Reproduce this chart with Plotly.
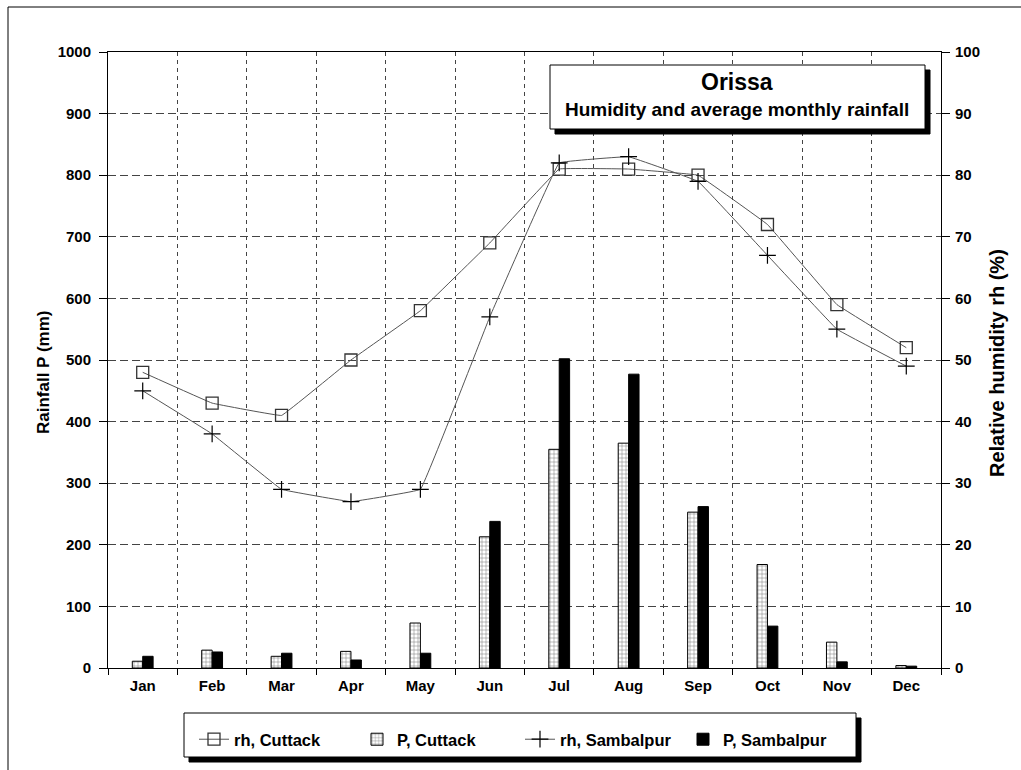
import plotly.graph_objects as go

months = ["Jan", "Feb", "Mar", "Apr", "May", "Jun", "Jul", "Aug", "Sep", "Oct", "Nov", "Dec"]
rh_cuttack = [48, 43, 41, 50, 58, 69, 81, 81, 80, 72, 59, 52]
rh_sambalpur = [45, 38, 29, 27, 29, 57, 82, 83, 79, 67, 55, 49]
p_cuttack = [11, 29, 19, 27, 73, 213, 355, 365, 253, 168, 42, 4]
p_sambalpur = [19, 26, 24, 13, 24, 238, 502, 477, 262, 68, 10, 3]

W, H = 1021, 770
L, R, T, B = 108, 941, 52, 668

def xp(px):
    return (px - L) / (R - L)

def yp(py):
    return (B - py) / (B - T)

xi = list(range(len(months)))
FONT = "Liberation Sans, Arial, sans-serif"

fig = go.Figure()

fig.add_trace(go.Bar(
    x=xi, y=p_cuttack, name="P, Cuttack", yaxis="y", legendrank=2,
    marker=dict(color="white", line=dict(color="black", width=1),
                pattern=dict(shape="+", fgcolor="black", bgcolor="white", size=4, solidity=0.25)),
))
fig.add_trace(go.Bar(
    x=xi, y=p_sambalpur, name="P, Sambalpur", yaxis="y", legendrank=4,
    marker=dict(color="black", line=dict(color="black", width=1)),
))
fig.add_trace(go.Scatter(
    x=xi, y=rh_cuttack, name="rh, Cuttack", yaxis="y2", legendrank=1,
    mode="lines+markers",
    line=dict(color="#555555", width=1, shape="spline", smoothing=0.12),
    marker=dict(symbol="square-open", size=12, color="#333333", line=dict(width=1.3, color="#333333")),
))
fig.add_trace(go.Scatter(
    x=xi, y=rh_sambalpur, name="rh, Sambalpur", yaxis="y2", legendrank=3,
    mode="lines+markers",
    line=dict(color="#555555", width=1, shape="spline", smoothing=0.12),
    marker=dict(symbol="cross-thin-open", size=12, color="black", line=dict(width=1.2, color="black")),
))

shapes = []
# outer frame
shapes.append(dict(type="rect", xref="paper", yref="paper",
                   x0=xp(8), x1=xp(1040), y0=yp(7), y1=yp(790),
                   line=dict(color="black", width=1), fillcolor="rgba(0,0,0,0)", layer="below"))
# title box shadow + box
shapes.append(dict(type="rect", xref="paper", yref="paper",
                   x0=xp(555), x1=xp(930), y0=yp(70), y1=yp(134),
                   line=dict(color="black", width=1), fillcolor="black", layer="above"))
shapes.append(dict(type="rect", xref="paper", yref="paper",
                   x0=xp(550), x1=xp(925), y0=yp(65), y1=yp(129),
                   line=dict(color="black", width=1), fillcolor="white", layer="above"))
# legend box shadow + box
shapes.append(dict(type="rect", xref="paper", yref="paper",
                   x0=xp(189), x1=xp(861), y0=yp(718), y1=yp(762),
                   line=dict(color="black", width=1), fillcolor="black", layer="above"))
shapes.append(dict(type="rect", xref="paper", yref="paper",
                   x0=xp(184), x1=xp(856), y0=yp(713), y1=yp(757),
                   line=dict(color="black", width=1), fillcolor="white", layer="above"))

annotations = [
    dict(text="<b>Orissa</b>", xref="paper", yref="paper", x=xp(737), y=yp(82),
         showarrow=False, font=dict(family=FONT, size=23, color="black"), xanchor="center", yanchor="middle"),
    dict(text="<b>Humidity and average monthly rainfall</b>", xref="paper", yref="paper",
         x=xp(737), y=yp(110), showarrow=False,
         font=dict(family=FONT, size=19, color="black"), xanchor="center", yanchor="middle"),
    dict(text="<b>Rainfall P (mm)</b>", xref="paper", yref="paper",
         x=xp(43), y=yp(373), textangle=-90, showarrow=False,
         font=dict(family=FONT, size=17, color="black"), xanchor="center", yanchor="middle"),
    dict(text="<b>Relative humidity rh (%)</b>", xref="paper", yref="paper",
         x=xp(997), y=yp(363), textangle=-90, showarrow=False,
         font=dict(family=FONT, size=20, color="black"), xanchor="center", yanchor="middle"),
]

fig.update_layout(
    width=W, height=H,
    margin=dict(l=L, r=W - R, t=T, b=H - B),
    paper_bgcolor="white", plot_bgcolor="white",
    font=dict(family=FONT, color="black"),
    barmode="group", bargap=0.7, bargroupgap=0,
    showlegend=True,
    legend=dict(orientation="h", x=xp(194), y=yp(722), xanchor="left", yanchor="top",
                bgcolor="rgba(0,0,0,0)", borderwidth=0,
                font=dict(family=FONT, size=16.5, color="black", weight="bold"),
                entrywidth=118, entrywidthmode="pixels", traceorder="normal"),
    xaxis=dict(
        range=[-0.5, 11.5], tickmode="array", tickvals=xi, ticktext=months,
        ticks="", showgrid=False, zeroline=False,
        showline=True, linecolor="black", linewidth=1, mirror=True,
        ticklabelstandoff=4,
        tickfont=dict(family=FONT, size=15, color="black", weight="bold"),
        minor=dict(tickmode="array", tickvals=[i - 0.5 for i in range(13)],
                   ticks="outside", ticklen=6, tickcolor="black", tickwidth=1,
                   showgrid=True, gridcolor="#444444", griddash="4px,4px", gridwidth=1),
    ),
    yaxis=dict(
        range=[0, 1000], tickmode="linear", tick0=0, dtick=100,
        ticks="outside", ticklen=8, tickcolor="black",
        showgrid=True, gridcolor="#444444", griddash="8px,4px", gridwidth=1,
        zeroline=False, showline=True, linecolor="black", linewidth=1,
        ticklabelstandoff=5,
        tickfont=dict(family=FONT, size=15, color="black", weight="bold"),
    ),
    yaxis2=dict(
        range=[0, 100], tickmode="linear", tick0=0, dtick=10, overlaying="y", side="right",
        ticks="outside", ticklen=8, tickcolor="black", showgrid=False, zeroline=False,
        showline=True, linecolor="black", linewidth=1,
        ticklabelstandoff=2,
        tickfont=dict(family=FONT, size=15, color="black", weight="bold"),
    ),
    shapes=shapes,
    annotations=annotations,
)

fig.write_html("out.html", config={"displayModeBar": False},
               post_script="document.body.style.margin='0px';")
